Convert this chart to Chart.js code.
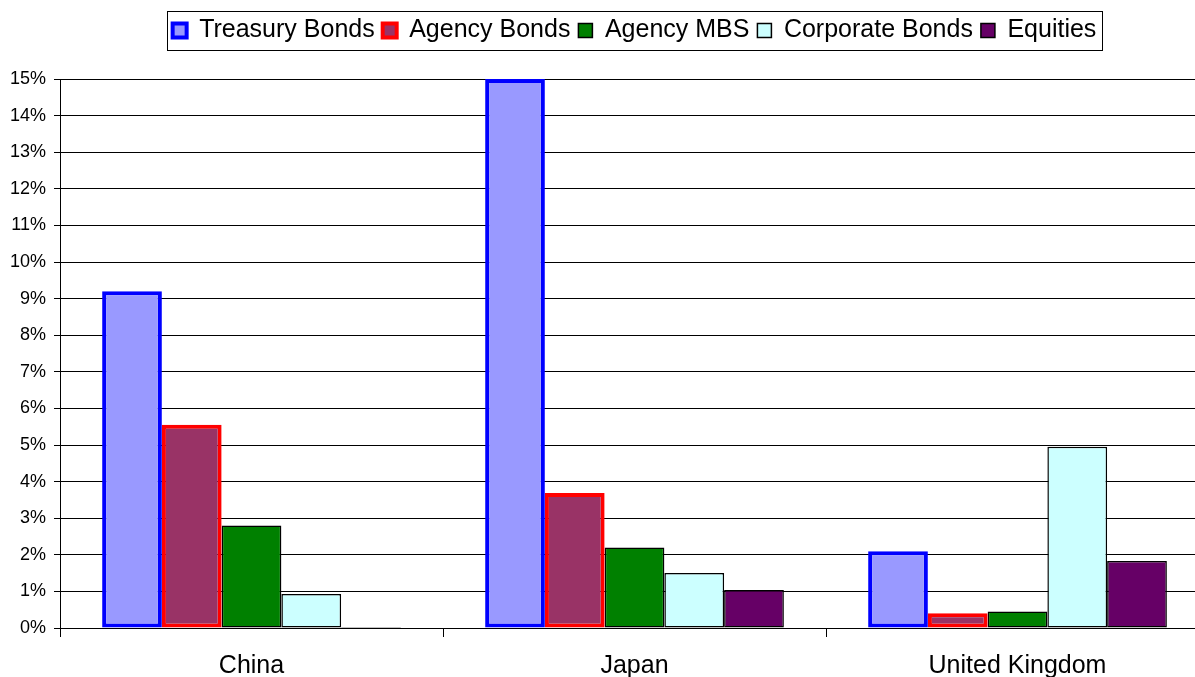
<!DOCTYPE html>
<html>
<head>
<meta charset="utf-8">
<script src="https://cdn.jsdelivr.net/npm/chart.js@4.4.1/dist/chart.umd.min.js"></script>
<style>
  html, body { margin: 0; padding: 0; background: #fff; overflow: hidden; }
  #wrap { width: 1215px; height: 677px; }
</style>
</head>
<body>
<div id="wrap"><canvas id="chart" width="1215" height="677"></canvas></div>
<script>
// categories and series (percent)
var countries = ["China", "Japan", "United Kingdom"];
var treasury = [9.2, 15.0, 2.1];
var agency = [5.55, 3.69, 0.4];
var agencyMbs = [2.8, 2.2, 0.45];
var corporate = [0.93, 1.5, 4.95];
var equities = [0.03, 1.04, 1.83];
var yTicks = [0, 1, 2, 3, 4, 5, 6, 7, 8, 9, 10, 11, 12, 13, 14, 15];

var font = "'Liberation Sans', Arial, sans-serif";
var legendSize = 25;
var legendPad = 8;

// legend: fixed height, centred over the plot, with a frame round it
var legendFrame = {
    id: "legendFrame",
    beforeLayout: function(chart) {
        var lg = chart.legend;
        if (lg && !lg._fixedHeight) {
            var fit = lg.fit;
            lg.fit = function() { fit.call(this); this.height = 69; };
            lg._fixedHeight = true;
        }
    },
    afterLayout: function(chart) {
        var lg = chart.legend;
        lg.left = chart.chartArea.left;
        lg.right = chart.chartArea.right;
    },
    afterDraw: function(chart) {
        var lg = chart.legend;
        if (!lg.lineWidths) return;
        var lw = lg.lineWidths[0];
        var start = (lg.left + legendPad + lg.right - lw) / 2;
        var x0 = start - 6;
        var x1 = start + lw - legendPad + 5;
        var y0 = lg.top + legendPad - 7;
        var y1 = lg.top + legendPad + legendSize + 7;
        var ctx = chart.ctx;
        ctx.save();
        ctx.strokeStyle = "#000";
        ctx.lineWidth = 1;
        ctx.strokeRect(Math.round(x0) + 0.5, Math.round(y0) + 0.5, Math.round(x1 - x0), Math.round(y1 - y0));
        ctx.restore();
    }
};

var ctx1 = document.getElementById("chart");

var chart1 = new Chart(ctx1, {
    type: "bar",
    data: {
        labels: countries,
        datasets: [
            { label: "Treasury Bonds", data: treasury, backgroundColor: "#9999FF", borderColor: "#0000FF", borderWidth: 4 },
            { label: "Agency Bonds", data: agency, backgroundColor: "#993366", borderColor: "#FF0000", borderWidth: 4 },
            { label: "Agency MBS", data: agencyMbs, backgroundColor: "#008000", borderColor: "#000", borderWidth: 1.5 },
            { label: "Corporate Bonds", data: corporate, backgroundColor: "#CCFFFF", borderColor: "#000", borderWidth: 1.5 },
            { label: "Equities", data: equities, backgroundColor: "#660066", borderColor: "#000", borderWidth: 1.5 }
        ]
    },
    options: {
        responsive: false,
        animation: false,
        devicePixelRatio: 1,
        layout: { padding: { top: 10, right: 6, left: 0, bottom: 0 } },
        datasets: {
            bar: { categoryPercentage: 0.78, barPercentage: 1.0, borderSkipped: false }
        },
        plugins: {
            legend: {
                position: "top",
                labels: {
                    color: "#000",
                    font: { family: font, size: legendSize },
                    boxWidth: 14,
                    boxHeight: 14,
                    padding: legendPad
                }
            },
            tooltip: { enabled: false }
        },
        scales: {
            x: {
                grid: { drawOnChartArea: false, color: "#000", tickLength: 9, offset: true },
                border: { color: "#000", width: 1 },
                ticks: { color: "#000", font: { family: font, size: 25 }, padding: 14 },
                afterFit: function(s) { s.height = 49; }
            },
            y: {
                min: 0,
                max: 15,
                afterBuildTicks: function(s) { s.ticks = yTicks.map(function(v) { return { value: v }; }); },
                grid: { color: "#000", tickLength: 6 },
                border: { color: "#000", width: 1 },
                ticks: {
                    color: "#000",
                    font: { family: font, size: 18 },
                    padding: 8,
                    callback: function(v) { return v + "%"; }
                },
                afterFit: function(s) { s.width = 60; }
            }
        }
    },
    plugins: [legendFrame]
});
</script>
</body>
</html>
